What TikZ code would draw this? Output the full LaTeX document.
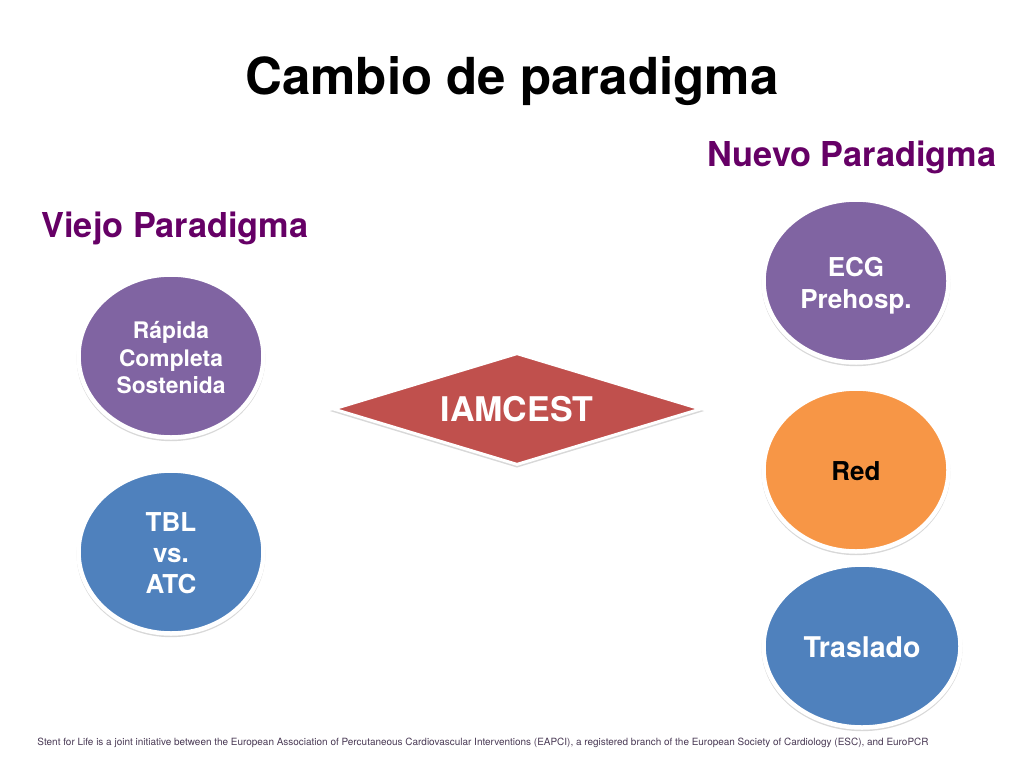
\documentclass[tikz,border=0pt]{standalone}
\usepackage{fontspec}
\setmainfont{TeX Gyre Heros}
\usetikzlibrary{shapes.geometric,shadows}
\definecolor{purpleoval}{HTML}{8064A2}
\definecolor{blueoval}{HTML}{4F81BD}
\definecolor{orangeoval}{HTML}{F79646}
\definecolor{reddiamond}{HTML}{C0504D}
\definecolor{headcolor}{HTML}{660066}
\definecolor{footcolor}{HTML}{4A3A55}
\newcommand{\ovallines}[2]{\raisebox{#1}[\height][\depth]{\begin{tabular}{@{}c@{}}#2\end{tabular}}}
\tikzset{
  softshadow/.style={drop shadow={shadow xshift=0pt,shadow yshift=-2pt,shadow scale=1.02,opacity=0.25,fill=black!60}},
  oval/.style={ellipse,draw=white,line width=4.5pt,inner sep=0pt,minimum width=185pt,minimum height=163pt,
    softshadow,align=center,text=white,font=\bfseries\fontsize{26}{32}\selectfont},
  ovalone/.style={oval,execute at begin node={\rule{0pt}{0.82em}}},
  heading/.style={text=headcolor,font=\bfseries\fontsize{34.3}{38}\selectfont,inner sep=0pt}
}
\begin{document}
\begin{tikzpicture}[x=1pt,y=-1pt]
  \useasboundingbox[fill=white] (0,0) rectangle (1024,768);
  \node[inner sep=0pt,font=\bfseries\fontsize{51}{56}\selectfont] (title) at (512,81) {Cambio de paradigma};
  \node[heading] (nuevo) at (852,157) {Nuevo Paradigma};
  \node[heading] (viejo) at (175,228) {Viejo Paradigma};
  % left side
  \node[oval,fill=purpleoval,font=\bfseries\fontsize{22.8}{27.5}\selectfont] (rapida) at (171,356) {\ovallines{-4.5pt}{Rápida\\Completa\\Sostenida}};
  \node[oval,fill=blueoval,font=\bfseries\fontsize{26}{31}\selectfont] (tbl) at (171,552) {\ovallines{-4.5pt}{TBL\\vs.\\ATC}};
  % right side
  \node[oval,fill=purpleoval] (ecg) at (856,281) {\ovallines{-5pt}{ECG\\Prehosp.}};
  \node[ovalone,fill=orangeoval,text=black] (red) at (856,470) {Red};
  \node[ovalone,fill=blueoval,minimum width=197pt,font=\bfseries\fontsize{28.5}{31}\selectfont] (traslado) at (862,646) {Traslado};
  \node[diamond,aspect=3.3,draw=white,line width=3pt,fill=reddiamond,inner sep=0pt,minimum width=368pt,minimum height=112pt,
    softshadow,text=white,font=\bfseries\fontsize{34}{38}\selectfont] (iamcest) at (517,409) {IAMCEST};
  \node[inner sep=0pt,text=footcolor,font=\fontsize{9.96}{12}\selectfont] (foot) at (483,743)
    {Stent for Life is a joint initiative between the European Association of Percutaneous Cardiovascular Interventions (EAPCI), a registered branch of the European Society of Cardiology (ESC), and EuroPCR};
\end{tikzpicture}
\end{document}
